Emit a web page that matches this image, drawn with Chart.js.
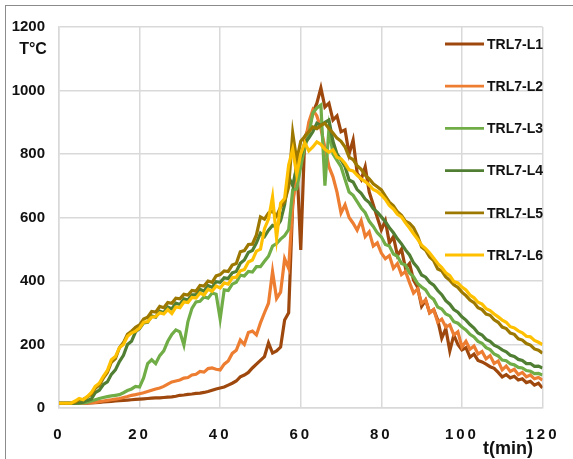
<!DOCTYPE html>
<html>
<head>
<meta charset="utf-8">
<script src="https://cdn.jsdelivr.net/npm/chart.js@4.4.0/dist/chart.umd.min.js"></script>
<style>
  html, body { margin: 0; padding: 0; background: #fff; }
  #wrap { position: relative; width: 573px; height: 459px; overflow: hidden; }
  #frame { position: absolute; left: 5px; top: 5px; width: 620px; height: 470px; border: 1px solid #8c8c8c; pointer-events: none; }
</style>
</head>
<body>
<div id="wrap">
  <canvas id="chart" width="573" height="459"></canvas>
  <div id="frame"></div>
</div>
<script>
// time in minutes
const TIME = [
  0,1,2,3,4,5,6,7,8,9,10,11,12,13,14,15,16,17,18,19,
  20,21,22,23,24,25,26,27,28,29,30,31,32,33,34,35,36,37,38,39,
  40,41,42,43,44,45,46,47,48,49,50,51,52,53,54,55,56,57,58,59,
  60,61,62,63,64,65,66,67,68,69,70,71,72,73,74,75,76,77,78,79,
  80,81,82,83,84,85,86,87,88,89,90,91,92,93,94,95,96,97,98,99,
  100,101,102,103,104,105,106,107,108,109,110,111,112,113,114,115,116,117,118,119,120
];

const SERIES_NAMES = ['TRL7-L1', 'TRL7-L2', 'TRL7-L3', 'TRL7-L4', 'TRL7-L5', 'TRL7-L6'];
const SERIES_COLORS = ['#9E480E', '#ED7D31', '#70AD47', '#507E32', '#9C7800', '#FFC000'];

const L1 = [
  15,15,15,15,15,15,15,15,16,17,
  18,19,20,21,22,23,24,25,26,27,
  28,29,30,31,32,32,33,34,35,37,
  40,41,43,44,46,47,49,52,56,60,
  63,66,72,78,85,98,104,112,126,138,
  150,162,205,173,180,192,277,300,640,780,
  498,854,880,930,960,1008,948,960,907,920,
  870,876,800,844,740,720,760,680,640,600,
  561,590,520,540,480,500,440,455,403,380,
  320,340,300,310,277,220,250,180,230,200,
  183,190,160,170,150,145,138,130,125,112,
  98,105,95,100,88,92,80,84,72,78,
  63
];
const L2 = [
  15,15,15,15,15,15,15,16,17,18,
  20,22,24,26,28,30,33,36,40,42,
  45,48,52,56,60,63,68,75,82,85,
  88,94,96,104,106,115,113,124,126,122,
  120,138,148,172,182,214,200,238,242,230,
  268,300,330,430,345,365,470,440,640,740,
  780,830,900,939,920,880,820,760,728,680,
  614,640,600,582,560,590,540,555,510,520,
  488,470,480,440,455,420,430,395,362,375,
  330,340,300,310,270,280,255,262,230,240,
  192,210,185,195,170,178,155,165,140,148,
  120,132,115,122,105,112,98,104,92,96,
  88
];
const L3 = [
  15,15,15,15,15,15,16,18,22,26,
  30,33,36,38,40,42,48,55,60,68,
  66,95,140,152,140,165,180,210,232,246,
  240,198,272,314,334,336,350,346,362,358,
  280,372,370,390,396,418,416,430,428,445,
  445,462,478,510,518,532,543,562,687,690,
  760,822,860,929,945,954,700,880,800,780,
  760,720,680,670,650,630,615,588,572,552,
  539,515,510,485,478,455,450,425,413,392,
  381,372,352,342,318,312,296,290,272,267,
  255,246,232,224,210,204,190,184,170,164,
  151,149,139,136,128,126,118,116,108,109,
  104
];
const L4 = [
  15,15,15,15,15,16,18,24,28,48,
  56,74,82,106,120,146,166,200,210,240,
  250,268,270,290,286,305,300,318,312,330,
  326,344,340,356,356,374,368,386,380,398,
  396,410,408,426,430,456,466,490,496,520,
  551,540,560,575,570,590,640,728,700,760,
  790,835,850,870,897,890,900,907,840,800,
  781,760,718,712,688,676,658,647,628,617,
  602,587,568,552,533,517,498,482,457,442,
  419,412,396,387,370,357,338,327,310,302,
  287,277,263,252,236,230,216,210,198,192,
  183,177,166,162,153,150,140,140,131,132,
  126
];
const L5 = [
  15,15,15,15,18,26,27,34,43,62,
  72,94,112,144,156,190,206,232,242,254,
  262,280,286,304,302,320,316,332,330,346,
  344,358,356,370,368,386,384,400,396,416,
  420,432,430,450,455,492,496,515,516,545,
  602,595,614,620,605,633,650,696,866,780,
  840,855,870,885,880,890,897,880,866,850,
  840,822,790,782,763,752,733,722,706,697,
  687,667,648,637,618,607,588,582,568,542,
  507,497,476,464,438,432,413,402,388,380,
  365,354,340,332,316,310,296,292,278,270,
  255,250,236,232,218,214,203,198,186,182,
  173
];
const L6 = [
  15,15,15,15,22,30,26,36,48,68,
  78,100,118,152,162,190,200,226,236,242,
  252,270,272,286,288,300,296,310,298,318,
  316,334,332,348,346,362,356,374,368,384,
  378,394,390,410,412,432,436,460,466,494,
  500,565,595,665,535,645,660,765,815,735,
  800,835,810,822,838,830,815,806,813,790,
  785,770,750,747,733,722,713,702,688,682,
  671,657,638,627,610,602,583,567,549,532,
  513,502,488,472,455,442,426,417,398,394,
  381,372,356,347,333,327,313,307,296,287,
  277,270,256,252,243,237,226,224,213,207,
  200
];

const SERIES = [L1, L2, L3, L4, L5, L6];
const X_TICKS = [0, 20, 40, 60, 80, 100, 120];
const Y_TICKS = [0, 200, 400, 600, 800, 1000, 1200];

const FONT = '"Liberation Sans", Arial, sans-serif';

// legend drawn inside the plot, right side
const legendPlugin = {
    id: 'sideLegend',
    afterDatasetsDraw: function (chart) {
        const ctx = chart.ctx;
        ctx.save();
        chart.data.datasets.forEach(function (ds, i) {
            const y = 44 + i * 42.2;
            ctx.strokeStyle = ds.borderColor;
            ctx.lineWidth = 2.8;
            ctx.beginPath();
            ctx.moveTo(445, y);
            ctx.lineTo(484, y);
            ctx.stroke();
            ctx.fillStyle = '#111';
            ctx.font = 'bold 14px ' + FONT;
            ctx.textAlign = 'left';
            ctx.textBaseline = 'middle';
            ctx.fillText(ds.label, 487, y + 1);
        });
        ctx.restore();
    }
};

// axis captions and spaced x tick labels
const captionPlugin = {
    id: 'captions',
    beforeDraw: function (chart) {
        const xs = chart.scales.x;
        if (!xs._spaced) {
            const orig = xs.drawLabels;
            xs.drawLabels = function (area) {
                this.ctx.save();
                this.ctx.letterSpacing = '3px';
                orig.call(this, area);
                this.ctx.restore();
            };
            xs._spaced = true;
        }
    },
    afterDraw: function (chart) {
        const ctx = chart.ctx;
        ctx.save();
        ctx.fillStyle = '#111';
        ctx.textBaseline = 'middle';
        ctx.textAlign = 'center';
        ctx.font = 'bold 16px ' + FONT;
        ctx.fillText('T°C', 33, 50);
        ctx.font = 'bold 18px ' + FONT;
        ctx.fillText('t(min)', 508, 449);
        ctx.restore();
    }
};

const datasets = SERIES.map(function (vals, i) {
    return {
        label: SERIES_NAMES[i],
        data: vals.map(function (v, k) { return { x: TIME[k], y: v }; }),
        borderColor: SERIES_COLORS[i],
        backgroundColor: SERIES_COLORS[i],
        borderWidth: 3.2,
        pointRadius: 0,
        tension: 0,
        fill: false,
        order: SERIES.length - i
    };
});

new Chart(document.getElementById('chart'), {
    type: 'line',
    data: { datasets: datasets },
    options: {
        responsive: false,
        animation: false,
        events: [],
        layout: { padding: { left: 0, right: 22, top: 27, bottom: 0 } },
        plugins: {
            legend: { display: false },
            tooltip: { enabled: false },
            title: { display: false }
        },
        scales: {
            x: {
                type: 'linear',
                min: 0,
                max: 120,
                afterBuildTicks: function (s) { s.ticks = X_TICKS.map(function (v) { return { value: v }; }); },
                afterFit: function (s) { s.height = 51; },
                grid: { color: '#D9D9D9', lineWidth: 1.5, drawTicks: false },
                border: { color: '#D9D9D9', width: 1.5 },
                ticks: {
                    color: '#111',
                    font: { family: FONT, size: 15, weight: 'bold' },
                    padding: 18,
                    maxRotation: 0,
                    autoSkip: false,
                    callback: function (v) { return String(v); }
                }
            },
            y: {
                min: 0,
                max: 1200,
                afterBuildTicks: function (s) { s.ticks = Y_TICKS.map(function (v) { return { value: v }; }); },
                afterFit: function (s) { s.width = 59; },
                grid: { color: '#D9D9D9', lineWidth: 1.5, drawTicks: false },
                border: { color: '#D9D9D9', width: 1.5 },
                ticks: {
                    color: '#111',
                    font: { family: FONT, size: 15, weight: 'bold' },
                    padding: 14,
                    callback: function (v) { return String(v); }
                }
            }
        }
    },
    plugins: [legendPlugin, captionPlugin]
});
</script>
</body>
</html>
